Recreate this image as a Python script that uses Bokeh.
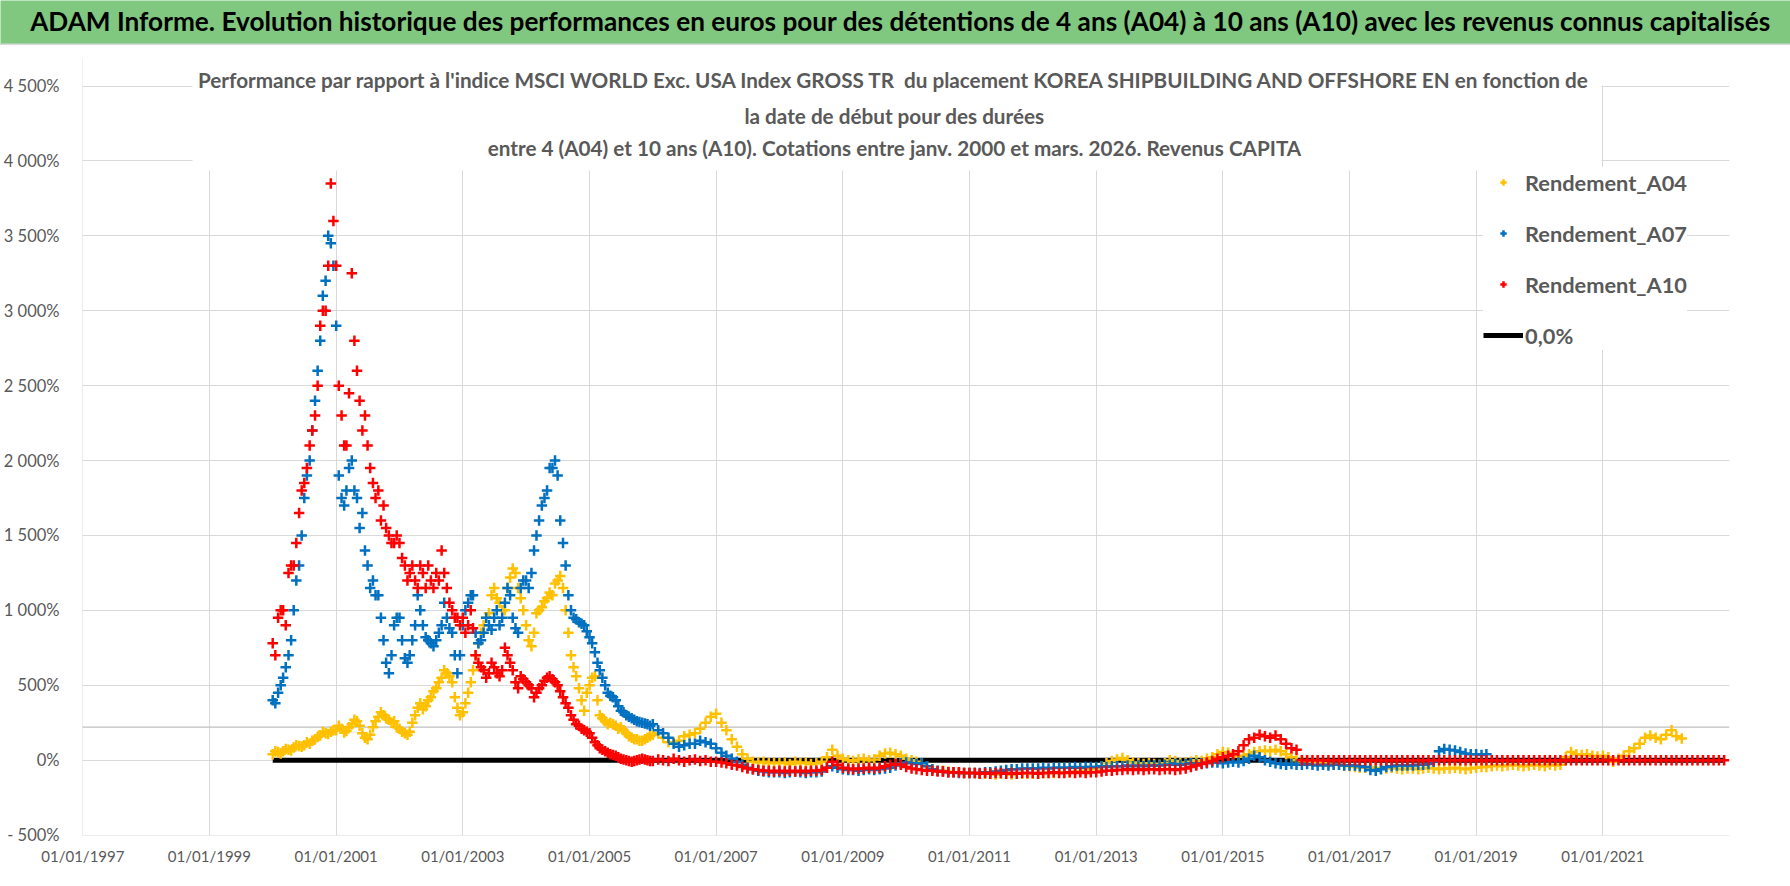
import pandas as pd
from bokeh.plotting import figure
from bokeh.models import (FixedTicker, DatetimeTickFormatter, Label, Span,
                          Legend, LegendItem, Range1d, BoxAnnotation)
from bokeh.layouts import column
from bokeh.embed import file_html
from bokeh.resources import INLINE

FONT = "Lato"
GREEN = "#80C880"
GREY_TEXT = "#595959"

TITLE = ("ADAM Informe. Evolution historique des performances en euros pour des "
         "détentions de 4 ans (A04) à 10 ans (A10) avec les revenus connus capitalisés")
SUBTITLE_LINES = [
    "Performance par rapport à l'indice MSCI WORLD Exc. USA Index GROSS TR\u00a0 du placement "
    "KOREA SHIPBUILDING AND OFFSHORE EN en fonction de",
    "la date de début pour des durées",
    "entre 4 (A04) et 10 ans (A10). Cotations entre janv. 2000 et mars. 2026. Revenus CAPITA",
]

series_names = ["Rendement_A04", "Rendement_A07", "Rendement_A10"]
series_colors = ["#FFC000", "#0070C0", "#FF0000"]
zero_name = "0,0%"

first_month = "2000-01-01"   # monthly values (1st of month) start here
first_mid_month = "2000-01-16"   # extra mid-month readings 2000-2005

# Rendement_A04, monthly, 2000-01 .. 2022-04 (%)
a04 = [
    40, 55, 60, 70, 85, 95, 100, 110, 140, 165, 180, 190,            # 2000
    200, 210, 195, 240, 260, 180, 140, 220, 290, 300, 270, 260,      # 2001
    210, 180, 190, 300, 380, 360, 420, 480, 550, 580, 520, 350,      # 2002
    320, 450, 600, 780, 900, 980, 1150, 1050, 1000, 1220, 1250, 1080,  # 2003
    900, 760, 980, 1020, 1080, 1100, 1200, 1150, 850, 620, 480, 330,   # 2004
    500, 560, 300, 260, 250, 230, 220, 180, 150, 140, 130, 150,      # 2005
    170, 180, 150, 120, 120, 130, 160, 170, 180, 210, 250, 290,      # 2006
    310, 250, 200, 140, 90, 40, 10, -10, -15, -10, -20, -15,         # 2007
    -20, -15, -25, -10, -20, -15, -25, -20, -10, 20, 70, 30,         # 2008
    10, 0, -5, 5, 10, 0, 5, 30, 45, 50, 40, 30,                      # 2009
    10, 0, -10, -20, -40, -60, -70, -70, -75, -80, -80, -85,         # 2010
    -85, -85, -90, -90, -90, -95, -90, -90, -95, -90, -90, -90,      # 2011
    -90, -90, -85, -85, -85, -80, -80, -80, -75, -75, -70, -60,      # 2012
    -55, -40, -20, -5, 5, 15, 0, -15, -20, -25, -20, -25,            # 2013
    -30, -20, 0, -5, -20, -15, -10, 0, -5, 10, 20, 40,               # 2014
    55, 50, 35, 25, 30, 40, 55, 60, 65, 60, 70, 60,                  # 2015
    40, 20, 0, -5, -5, -10, -10, -20, -25, -30, -30, -35,            # 2016
    -40, -45, -50, -50, -45, -50, -55, -55, -50, -55, -60, -55,      # 2017
    -55, -60, -55, -50, -55, -60, -55, -55, -50, -55, -60, -55,      # 2018
    -50, -45, -45, -40, -35, -40, -35, -30, -35, -40, -35, -30,      # 2019
    -35, -40, -30, -35, -30, 20, 55, 40, 35, 40, 30, 25,             # 2020
    30, 20, -10, 10, 30, 60, 80, 110, 150, 165, 150, 140,            # 2021
    170, 200, 160, 145,                                              # 2022
]
# Rendement_A04, mid-month readings, 2000-01 .. 2005-12 (%)
a04_mid = [
    60, 45, 75, 65, 100, 90, 120, 130, 155, 190, 175, 200,           # 2000
    230, 185, 220, 270, 230, 150, 170, 260, 320, 280, 250, 220,      # 2001
    190, 170, 250, 350, 340, 400, 460, 520, 600, 560, 420, 300,      # 2002
    380, 520, 700, 850, 950, 1100, 1080, 1000, 1150, 1280, 1150, 1000,  # 2003
    800, 850, 1000, 1060, 1120, 1180, 1230, 1000, 700, 560, 400, 450,   # 2004
    550, 400, 280, 240, 240, 210, 200, 160, 140, 130, 140, 160,      # 2005
]

# Rendement_A07, monthly, 2000-01 .. 2019-03 (%)
a07 = [
    400, 450, 550, 700, 1000, 1300, 1750, 2000, 2400, 2800, 3200, 3450,  # 2000
    2900, 1750, 1800, 2000, 1750, 1650, 1300, 1200, 1100, 800, 580, 900,  # 2001
    950, 680, 700, 900, 1000, 820, 780, 800, 900, 950, 850, 580,        # 2002
    900, 1050, 1100, 780, 850, 900, 950, 900, 1050, 1100, 880, 1150,    # 2003
    1200, 1250, 1500, 1700, 1800, 1950, 1900, 1450, 1100, 950, 920, 900,  # 2004
    820, 720, 600, 500, 430, 400, 330, 300, 280, 260, 250, 240,         # 2005
    240, 200, 180, 150, 110, 90, 100, 110, 110, 130, 120, 110,          # 2006
    80, 50, 30, 10, -10, -30, -50, -60, -70, -75, -80, -80,             # 2007
    -80, -85, -80, -75, -80, -85, -80, -80, -75, -50, -40, -50,         # 2008
    -60, -65, -65, -70, -65, -60, -65, -60, -55, -50, -35, -20,         # 2009
    -15, -20, -25, -20, -40, -60, -70, -75, -80, -80, -85, -85,         # 2010
    -85, -85, -85, -80, -80, -75, -70, -65, -60, -60, -55, -55,         # 2011
    -55, -55, -50, -55, -50, -50, -50, -50, -45, -50, -45, -45,         # 2012
    -45, -40, -45, -40, -40, -40, -35, -40, -35, -40, -35, -35,         # 2013
    -35, -30, -30, -25, -30, -25, -20, -25, -20, -20, -15, -15,         # 2014
    -20, -15, -10, -15, -5, 10, 30, 20, 0, -10, -20, -25,               # 2015
    -30, -25, -30, -30, -25, -30, -35, -30, -35, -30, -30, -35,         # 2016
    -35, -35, -40, -45, -65, -70, -60, -45, -40, -35, -35, -35,         # 2017
    -35, -30, -30, -25, -10, 60, 75, 70, 65, 55, 45, 40,                # 2018
    40, 35, 40,                                                         # 2019
]
# Rendement_A07, mid-month readings, 2000-01 .. 2005-12 (%)
a07_mid = [
    380, 500, 620, 800, 1200, 1500, 1900, 2200, 2600, 3100, 3500, 3300,  # 2000
    1900, 1700, 1950, 1800, 1550, 1400, 1150, 1100, 950, 650, 700, 950,  # 2001
    800, 650, 800, 1100, 900, 800, 760, 850, 1050, 880, 700, 700,        # 2002
    1000, 1100, 850, 800, 950, 870, 1000, 950, 1150, 950, 850, 1200,     # 2003
    1150, 1400, 1600, 1750, 1950, 2000, 1600, 1300, 1000, 940, 910, 860,  # 2004
    780, 650, 550, 450, 420, 360, 320, 290, 270, 255, 245, 230,          # 2005
]

# Rendement_A10, monthly, 2000-01 .. 2022-12 (%), flat at 0 after 2016-03
a10 = [
    780, 950, 1000, 1250, 1300, 1650, 1850, 2100, 2300, 2900, 3000, 3850,  # 2000
    3300, 2300, 2100, 3250, 2600, 2200, 2100, 1850, 1800, 1700, 1500, 1450,  # 2001
    1450, 1300, 1250, 1200, 1300, 1150, 1200, 1250, 1400, 1150, 1000, 950,  # 2002
    950, 900, 880, 650, 600, 580, 620, 560, 750, 650, 520, 560,          # 2003
    520, 480, 450, 500, 550, 540, 500, 420, 350, 270, 230, 200,          # 2004
    180, 120, 80, 60, 40, 30, 10, 0, -10, 0, 10, 0,                      # 2005
    -5, 5, 0, -5, 10, 0, -10, 0, 5, -5, 0, -10,                          # 2006
    -10, -15, -20, -30, -35, -45, -55, -60, -65, -70, -70, -75,          # 2007
    -70, -75, -70, -75, -70, -75, -70, -70, -65, -50, -10, -30,          # 2008
    -50, -55, -60, -55, -55, -50, -55, -50, -40, -30, -25, -30,          # 2009
    -45, -55, -60, -65, -70, -70, -75, -75, -80, -80, -80, -85,          # 2010
    -85, -85, -90, -85, -90, -85, -85, -90, -85, -90, -85, -85,          # 2011
    -85, -90, -85, -85, -80, -85, -85, -80, -85, -80, -85, -80,          # 2012
    -80, -75, -70, -70, -65, -65, -60, -65, -60, -65, -60, -60,          # 2013
    -65, -60, -60, -65, -60, -55, -45, -35, -25, -15, -5, 10,            # 2014
    20, 30, 40, 60, 100, 140, 150, 170, 160, 150, 165, 140,              # 2015
    110, 80, 70, 0, 0, 0, 0, 0, 0, 0, 0, 0,                              # 2016
    0, 0, 0, 0, 0, 0, 0, 0, 0, 0, 0, 0,                                  # 2017
    0, 0, 0, 0, 0, 0, 0, 0, 0, 0, 0, 0,                                  # 2018
    0, 0, 0, 0, 0, 0, 0, 0, 0, 0, 0, 0,                                  # 2019
    0, 0, 0, 0, 0, 0, 0, 0, 0, 0, 0, 0,                                  # 2020
    0, 0, 0, 0, 0, 0, 0, 0, 0, 0, 0, 0,                                  # 2021
    0, 0, 0, 0, 0, 0, 0, 0, 0, 0, 0, 0,                                  # 2022
]
# Rendement_A10, mid-month readings, 2000-01 .. 2005-12 (%)
a10_mid = [
    700, 1000, 900, 1300, 1450, 1800, 1950, 2200, 2500, 3000, 3300, 3600,  # 2000
    2500, 2100, 2450, 2800, 2400, 2300, 1950, 1750, 1600, 1550, 1450, 1500,  # 2001
    1350, 1200, 1300, 1150, 1250, 1300, 1150, 1200, 1250, 1050, 950, 900,  # 2002
    850, 1000, 700, 620, 550, 650, 580, 600, 700, 600, 480, 540,         # 2003
    500, 420, 480, 530, 560, 520, 460, 380, 300, 240, 210, 190,          # 2004
    150, 100, 70, 50, 35, 20, 5, -5, -5, 5, 5, -5,                       # 2005
]

# "0,0%" reference line
zero_line_dates = ["2000-01-01", "2022-12-01"]
zero_line_values = [0.0, 0.0]

# axes
x_start, x_end = "1996-12-30", "2023-01-01"
x_tick_dates = ["1997-01-01", "1999-01-01", "2001-01-01", "2003-01-01", "2005-01-01",
                "2007-01-01", "2009-01-01", "2011-01-01", "2013-01-01", "2015-01-01",
                "2017-01-01", "2019-01-01", "2021-01-01"]
y_ticks = [-500, 0, 500, 1000, 1500, 2000, 2500, 3000, 3500, 4000, 4500]
y_tick_labels = ["- 500%", "0%", "500%", "1 000%", "1 500%", "2 000%", "2 500%",
                 "3 000%", "3 500%", "4 000%", "4 500%"]
y_top_tick = 4500
axis_cross = 220   # horizontal axis line crosses here (%)


def ms(d):
    return pd.Timestamp(d).value // 10**6


def dates_from(start, n):
    base = pd.Timestamp(start)
    return [base + pd.DateOffset(months=i) for i in range(n)]


W = 1790
TOP_H = 45
CHART_H = 841

# ---------------- title band ----------------
top = figure(width=W, height=TOP_H, toolbar_location=None, output_backend="svg",
             x_axis_location=None, y_axis_location=None, min_border=0,
             background_fill_color=GREEN, border_fill_color=GREEN,
             outline_line_color=None, tools="")
top.frame_align = False
top.grid.visible = False
top.add_layout(BoxAnnotation(left=0, right=W, bottom=0, top=2, left_units="screen",
                             right_units="screen", bottom_units="screen", top_units="screen",
                             fill_color="#d9d9d9", fill_alpha=1, line_color=None))
top.add_layout(Label(x=900, y=25, x_units="screen", y_units="screen", text=TITLE,
                     text_align="center", text_baseline="middle", text_font=FONT,
                     text_font_style="bold", text_font_size="26.2px", text_color="black"))

# ---------------- chart ----------------
p = figure(width=W, height=CHART_H, toolbar_location=None, output_backend="svg",
           x_axis_type="datetime", tools="",
           x_range=Range1d(ms(x_start), ms(x_end)), y_range=Range1d(-503, 4684),
           min_border_left=78, min_border_right=61, min_border_top=13, min_border_bottom=51,
           background_fill_color="white", border_fill_color="white",
           outline_line_color=None)
p.frame_align = False
p.styles = {"outline": "1px solid #8c8c8c", "outline-offset": "-2px"}

xt = FixedTicker(ticks=[ms(d) for d in x_tick_dates])
p.xaxis.ticker = xt
p.xgrid.ticker = xt
p.xaxis.formatter = DatetimeTickFormatter(years="%d/%m/%Y", months="%d/%m/%Y",
                                          days="%d/%m/%Y")
yt = FixedTicker(ticks=y_ticks)
p.yaxis.ticker = yt
p.ygrid.ticker = yt
p.yaxis.major_label_overrides = {v: s for v, s in zip(y_ticks, y_tick_labels)}

for ax in (p.xaxis[0], p.yaxis[0]):
    ax.axis_line_color = None
    ax.major_tick_line_color = None
    ax.minor_tick_line_color = None
    ax.major_label_text_font = FONT
    ax.major_label_text_color = GREY_TEXT
p.xaxis.major_label_text_font_size = "15px"
p.yaxis.major_label_text_font_size = "16.5px"
p.xaxis.major_label_standoff = 5
p.yaxis.major_label_standoff = 17

p.xgrid.grid_line_color = "#d9d9d9"
p.ygrid.grid_line_color = "#d9d9d9"

# plot area ends at 4 500%: hide grid above it
p.add_layout(BoxAnnotation(bottom=y_top_tick + 3, fill_color="white", fill_alpha=1,
                           line_color=None, level="underlay"))
p.add_layout(Span(location=axis_cross, dimension="width", line_color="#bfbfbf",
                  line_width=1.3, level="underlay"))

r_zero = p.line([pd.Timestamp(d) for d in zero_line_dates], zero_line_values,
                line_color="black", line_width=5)

renderers = []
for vals, mids, col in zip([a04, a07, a10], [a04_mid, a07_mid, a10_mid], series_colors):
    xs = dates_from(first_month, len(vals)) + dates_from(first_mid_month, len(mids))
    ys = list(vals) + list(mids)
    r = p.scatter(xs, ys, marker="cross", size=10.5, line_width=2.5, line_color=col)
    renderers.append(r)

# subtitle with its white box
p.add_layout(BoxAnnotation(left=110, right=1519, bottom=665, top=775, left_units="screen",
                           right_units="screen", bottom_units="screen", top_units="screen",
                           fill_color="white", fill_alpha=1, line_color=None))
for txt, yy in zip(SUBTITLE_LINES, [756, 720, 688]):
    p.add_layout(Label(x=812, y=yy, x_units="screen", y_units="screen", text=txt,
                       text_align="center", text_baseline="middle", text_font=FONT,
                       text_font_style="bold", text_font_size="20.7px",
                       text_color=GREY_TEXT))

items = [LegendItem(label=n, renderers=[r]) for n, r in zip(series_names, renderers)]
items.append(LegendItem(label=zero_name, renderers=[r_zero]))
legend = Legend(items=items, location=(1401, 485), glyph_width=40, glyph_height=16,
                label_height=30, spacing=21, padding=14, label_standoff=2, margin=0,
                border_line_color=None, background_fill_color="white",
                background_fill_alpha=1.0, label_text_font=FONT,
                label_text_font_style="bold", label_text_font_size="21.8px",
                label_text_color=GREY_TEXT)
p.add_layout(legend)

layout = column(top, p, spacing=0)
open("out.html", "w").write(file_html(layout, INLINE))
